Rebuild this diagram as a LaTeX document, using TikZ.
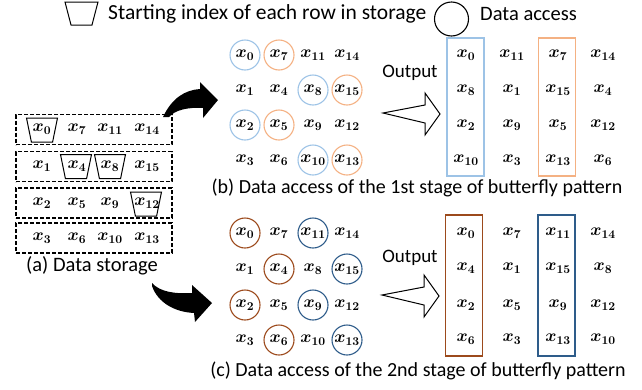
\RequirePackage{fix-cm}
\documentclass[tikz,border=0pt]{standalone}
\usepackage{amsmath}
\usepackage[no-math]{fontspec}
\setmainfont{Carlito}
\usetikzlibrary{shapes.geometric}
\definecolor{lblue}{HTML}{9DC3E6}
\definecolor{lorange}{HTML}{F4B183}
\definecolor{rust}{HTML}{9C4A1C}
\definecolor{dblue}{HTML}{2E5C8A}

\begin{document}
\begin{tikzpicture}[x=1pt, y=-1pt,
	el/.style={font=\fontsize{17}{17}\selectfont\boldmath, inner sep=0pt},
	lab/.style={font=\fontsize{19}{22}\selectfont, inner sep=0pt},
	caplab/.style={font=\fontsize{20}{24}\selectfont, inner sep=0pt},
	biglab/.style={font=\fontsize{20.5}{24}\selectfont, inner sep=0pt},
	acc/.style={circle, draw=#1, line width=1.1pt, minimum size=30pt, inner sep=0pt},
	start/.style={trapezium, shape border rotate=180, trapezium stretches=true, trapezium left angle=77, trapezium right angle=77, draw, line width=1pt, minimum width=31pt, minimum height=24pt, inner sep=2pt},
	rowbox/.style={draw, dash pattern=on 4pt off 2pt, line width=1.2pt, minimum width=156pt, minimum height=30pt, inner sep=0pt},
	obox/.style={draw=#1, line width=1.2pt, minimum width=37pt, minimum height=138pt, inner sep=0pt},
	hollow/.style={draw, line width=1pt, fill=white}] % 1pt = 1px
					\useasboundingbox (0,0) rectangle (642,389);
					% legend
					\node[start, minimum width=33pt, minimum height=23pt, trapezium left angle=74, trapezium right angle=74] (ltrap) at (81.5,13.5) {};
					\node[biglab, font=\fontsize{21.5}{24}\selectfont, anchor=west] (ltxt1) at (108,13.5) {Starting index of each row in storage};
					\node[acc=black, minimum size=34pt] (lcirc) at (451.5,19) {};
					\node[biglab, anchor=west] (ltxt2) at (480,13.5) {Data access};
					% (a) storage
					\node[rowbox] (row1) at (94,129.5) {};
					\node[rowbox] (row2) at (94,166.5) {};
					\node[rowbox] (row3) at (94,203) {};
					\node[rowbox] (row4) at (94,238) {};
					\node[el] (s0) at (42,129) {$x_{0}$}; \node[el] (s7) at (77,129) {$x_{7}$}; \node[el] (s11) at (110,129) {$x_{11}$}; \node[el] (s14) at (147,129) {$x_{14}$};
					\node[el] (s1) at (42,166) {$x_{1}$}; \node[el] (s4) at (77,166) {$x_{4}$}; \node[el] (s8) at (110,166) {$x_{8}$}; \node[el] (s15) at (147,166) {$x_{15}$};
					\node[el] (s2) at (42,203) {$x_{2}$}; \node[el] (s5) at (77,203) {$x_{5}$}; \node[el] (s9) at (110,203) {$x_{9}$}; \node[el] (s12) at (147,203) {$x_{12}$};
					\node[el] (s3) at (42,238) {$x_{3}$}; \node[el] (s6) at (77,238) {$x_{6}$}; \node[el] (s10) at (110,238) {$x_{10}$}; \node[el] (s13) at (147,238) {$x_{13}$};
					\node[start] (t0) at (42,130) {};
					\node[start] (t4) at (76,166.5) {};
					\node[start] (t8) at (110,166.5) {};
					\node[start] (t12) at (146,204) {};
					\node[biglab] (capa) at (92,266) {(a) Data storage};
					% curved arrows
					\fill (163,117) .. controls (172,98) and (185,90) .. (200,89) -- (200,82) -- (218,100) -- (203,118) -- (203,108) .. controls (188,107) and (175,110) .. (169,117) -- cycle;
					\fill (152,283) .. controls (160,292) and (175,294) .. (192,293) -- (192,285) -- (212,303) -- (195,322) -- (194,313) .. controls (175,312) and (158,303) .. (152,286) -- cycle;
					% (b) first stage
					\node[el, acc=lblue] (b0) at (245,55) {$x_{0}$}; \node[el, acc=lorange] (b7) at (279,55) {$x_{7}$}; \node[el] (b11) at (313,55) {$x_{11}$}; \node[el] (b14) at (347,55) {$x_{14}$};
					\node[el] (b1) at (245,90) {$x_{1}$}; \node[el] (b4) at (279,90) {$x_{4}$}; \node[el, acc=lblue] (b8) at (313,90) {$x_{8}$}; \node[el, acc=lorange] (b15) at (347,90) {$x_{15}$};
					\node[el, acc=lblue] (b2) at (245,125) {$x_{2}$}; \node[el, acc=lorange] (b5) at (279,125) {$x_{5}$}; \node[el] (b9) at (313,125) {$x_{9}$}; \node[el] (b12) at (347,125) {$x_{12}$};
					\node[el] (b3) at (245,160) {$x_{3}$}; \node[el] (b6) at (279,160) {$x_{6}$}; \node[el, acc=lblue] (b10) at (313,160) {$x_{10}$}; \node[el, acc=lorange] (b13) at (347,160) {$x_{13}$};
					\node[lab] (bout) at (410,73) {Output};
					\draw[hollow] (383,113) -- (425,105) -- (425,93) -- (440,114) -- (425,135) -- (425,123) -- cycle;
					\node[obox=lblue] (bbox1) at (465.5,107) {};
					\node[obox=lorange] (bbox2) at (557,107) {};
					\node[el] (bo0) at (466,55) {$x_{0}$}; \node[el] (bo11) at (512,55) {$x_{11}$}; \node[el] (bo7) at (558,55) {$x_{7}$}; \node[el] (bo14) at (603,55) {$x_{14}$};
					\node[el] (bo8) at (466,90) {$x_{8}$}; \node[el] (bo1) at (512,90) {$x_{1}$}; \node[el] (bo15) at (558,90) {$x_{15}$}; \node[el] (bo4) at (603,90) {$x_{4}$};
					\node[el] (bo2) at (466,125) {$x_{2}$}; \node[el] (bo9) at (512,125) {$x_{9}$}; \node[el] (bo5) at (558,125) {$x_{5}$}; \node[el] (bo12) at (603,125) {$x_{12}$};
					\node[el] (bo10) at (466,160) {$x_{10}$}; \node[el] (bo3) at (512,160) {$x_{3}$}; \node[el] (bo13) at (558,160) {$x_{13}$}; \node[el] (bo6) at (603,160) {$x_{6}$};
					\node[caplab] (capb) at (417,188) {(b) Data access of the 1st stage of butterfly pattern};
					% (c) second stage
					\node[el, acc=rust] (c0) at (245,233) {$x_{0}$}; \node[el] (c7) at (279,233) {$x_{7}$}; \node[el, acc=dblue] (c11) at (313,233) {$x_{11}$}; \node[el] (c14) at (347,233) {$x_{14}$};
					\node[el] (c1) at (245,269) {$x_{1}$}; \node[el, acc=rust] (c4) at (279,269) {$x_{4}$}; \node[el] (c8) at (313,269) {$x_{8}$}; \node[el, acc=dblue] (c15) at (347,269) {$x_{15}$};
					\node[el, acc=rust] (c2) at (245,305) {$x_{2}$}; \node[el] (c5) at (279,305) {$x_{5}$}; \node[el, acc=dblue] (c9) at (313,305) {$x_{9}$}; \node[el] (c12) at (347,305) {$x_{12}$};
					\node[el] (c3) at (245,340) {$x_{3}$}; \node[el, acc=rust] (c6) at (279,340) {$x_{6}$}; \node[el] (c10) at (313,340) {$x_{10}$}; \node[el, acc=dblue] (c13) at (347,340) {$x_{13}$};
					\node[lab] (cout) at (410,258) {Output};
					\draw[hollow] (382,295) -- (424,287) -- (424,275) -- (439,296) -- (424,317) -- (424,305) -- cycle;
					\node[obox=rust, minimum height=141pt] (cbox1) at (464,285.5) {};
					\node[obox=dblue, minimum height=141pt] (cbox2) at (556.5,285.5) {};
					\node[el] (co0) at (466,233) {$x_{0}$}; \node[el] (co7) at (512,233) {$x_{7}$}; \node[el] (co11) at (558,233) {$x_{11}$}; \node[el] (co14) at (603,233) {$x_{14}$};
					\node[el] (co4) at (466,268) {$x_{4}$}; \node[el] (co1) at (512,268) {$x_{1}$}; \node[el] (co15) at (558,268) {$x_{15}$}; \node[el] (co8) at (603,268) {$x_{8}$};
					\node[el] (co2) at (466,305) {$x_{2}$}; \node[el] (co5) at (512,305) {$x_{5}$}; \node[el] (co9) at (558,305) {$x_{9}$}; \node[el] (co12) at (603,305) {$x_{12}$};
					\node[el] (co6) at (466,339) {$x_{6}$}; \node[el] (co3) at (512,339) {$x_{3}$}; \node[el] (co13) at (558,339) {$x_{13}$}; \node[el] (co10) at (603,339) {$x_{10}$};
					\node[caplab] (capc) at (418,371) {(c) Data access of the 2nd stage of butterfly pattern};
				\end{tikzpicture}
\end{document}
